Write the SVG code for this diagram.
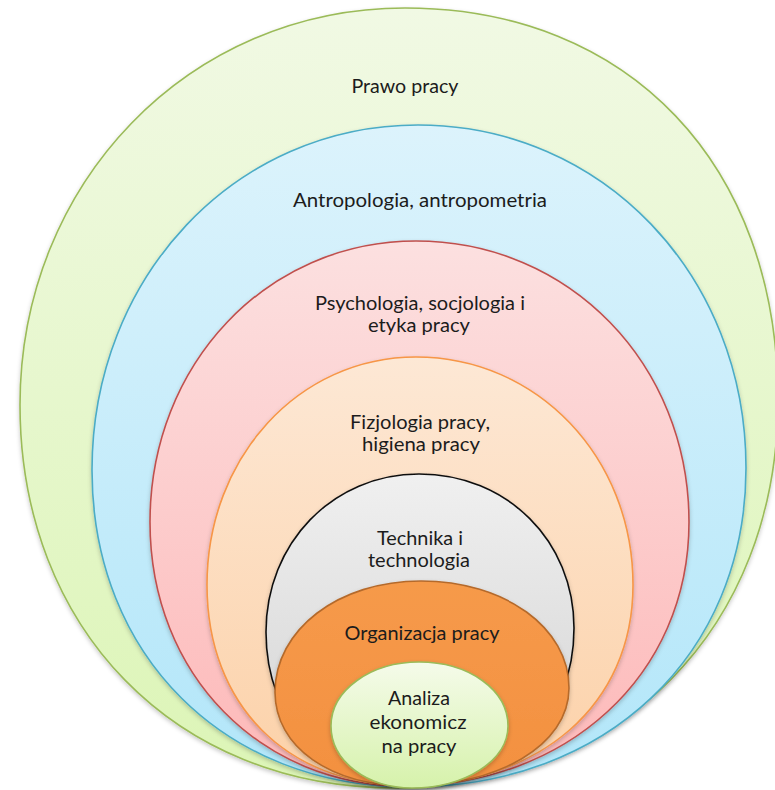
<svg xmlns="http://www.w3.org/2000/svg" width="775" height="790" viewBox="0 0 775 790">
<defs>
<linearGradient id="gGreen" x1="0" y1="0" x2="0" y2="1"><stop offset="0" stop-color="#f1f9e4"/><stop offset="1" stop-color="#dcf5b6"/></linearGradient>
<linearGradient id="gBlue" x1="0" y1="0" x2="0" y2="1"><stop offset="0" stop-color="#dcf3fc"/><stop offset="1" stop-color="#b2e6f9"/></linearGradient>
<linearGradient id="gPink" x1="0" y1="0" x2="0" y2="1"><stop offset="0" stop-color="#fce0e0"/><stop offset="1" stop-color="#fdb8b8"/></linearGradient>
<linearGradient id="gPeach" x1="0" y1="0" x2="0" y2="1"><stop offset="0" stop-color="#fde8d5"/><stop offset="1" stop-color="#fcd1a8"/></linearGradient>
<linearGradient id="gGray" x1="0" y1="0" x2="0" y2="1"><stop offset="0" stop-color="#f0f0f0"/><stop offset="1" stop-color="#d2d2d2"/></linearGradient>
<linearGradient id="gOrange" x1="0" y1="0" x2="0" y2="1"><stop offset="0" stop-color="#f69a4a"/><stop offset="1" stop-color="#f39040"/></linearGradient>
<linearGradient id="gSmall" x1="0" y1="0" x2="0" y2="1"><stop offset="0" stop-color="#f5fbea"/><stop offset="1" stop-color="#d6f2ab"/></linearGradient>
<filter id="sh" x="-10%" y="-10%" width="120%" height="120%"><feDropShadow dx="0" dy="2" stdDeviation="2" flood-color="#000" flood-opacity="0.22"/></filter>
</defs>
<style>
.shape{stroke-width:1.6;filter:url(#sh)}
.lbl{font-family:Lato,"Liberation Sans",sans-serif;font-size:18.5px;fill:#1c1c1c;text-anchor:middle}
</style>
<g id="prawo-pracy">
<path class="shape" fill="url(#gGreen)" stroke="#9bbb59" d="M405,8 C189,8 20,183 20,405 C20,628 175,788 395,788 C620,788 778,628 778,400 C778,165 629,8 405,8 Z"/>
<text class="lbl" x="405" y="93" textLength="107" lengthAdjust="spacingAndGlyphs">Prawo pracy</text>
</g>
<g id="antropologia">
<path class="shape" fill="url(#gBlue)" stroke="#4bacc6" d="M418,125 C235,125 92,277 92,470 C92,656 225,787 410,787 C606,787 746,655 746,468 C746,275 602,125 418,125 Z"/>
<text class="lbl" x="420" y="207" textLength="254" lengthAdjust="spacingAndGlyphs">Antropologia, antropometria</text>
</g>
<g id="psychologia">
<path class="shape" fill="url(#gPink)" stroke="#c0504d" d="M416,241 C267,241 150,364 150,522 C150,676 262,786 405,786 C566,786 689,676 689,522 C689,364 569,241 416,241 Z"/>
<text class="lbl" x="420" y="310" textLength="210" lengthAdjust="spacingAndGlyphs">Psychologia, socjologia i</text>
<text class="lbl" x="419" y="332" textLength="102" lengthAdjust="spacingAndGlyphs">etyka pracy</text>
</g>
<g id="fizjologia">
<path class="shape" fill="url(#gPeach)" stroke="#f79646" d="M416,357 C299,357 207,457 207,585 C207,705 287,785 405,785 C540,785 633,705 633,585 C633,457 537,357 416,357 Z"/>
<text class="lbl" x="420" y="429" textLength="140" lengthAdjust="spacingAndGlyphs">Fizjologia pracy,</text>
<text class="lbl" x="421" y="451" textLength="118" lengthAdjust="spacingAndGlyphs">higiena pracy</text>
</g>
<g id="technika">
<path class="shape" fill="url(#gGray)" stroke="#111111" d="M419,474 C333,474 266,543 266,632 C266,722 327,782 412,782 C507,782 574,722 574,628 C574,541 507,474 419,474 Z"/>
<text class="lbl" x="420" y="545" textLength="86" lengthAdjust="spacingAndGlyphs">Technika i</text>
<text class="lbl" x="419" y="567" textLength="102" lengthAdjust="spacingAndGlyphs">technologia</text>
</g>
<g id="organizacja">
<path class="shape" fill="url(#gOrange)" stroke="#b56a2c" d="M421,581 C338,581 275,630 275,692 C275,747 330,786 410,786 C496,786 569,746 569,688 C569,628 505,581 421,581 Z"/>
<text class="lbl" x="422" y="640" textLength="155" lengthAdjust="spacingAndGlyphs">Organizacja pracy</text>
</g>
<g id="analiza">
<path class="shape" fill="url(#gSmall)" stroke="#9bbb59" d="M419,662 C371,662 331,690 331,726 C331,761 367,788 412,788 C464,788 508,761 508,726 C508,690 469,662 419,662 Z"/>
<text class="lbl" x="419" y="705" textLength="62" lengthAdjust="spacingAndGlyphs">Analiza</text>
<text class="lbl" x="418" y="729" textLength="97" lengthAdjust="spacingAndGlyphs">ekonomicz</text>
<text class="lbl" x="419" y="753" textLength="75" lengthAdjust="spacingAndGlyphs">na pracy</text>
</g>
</svg>
